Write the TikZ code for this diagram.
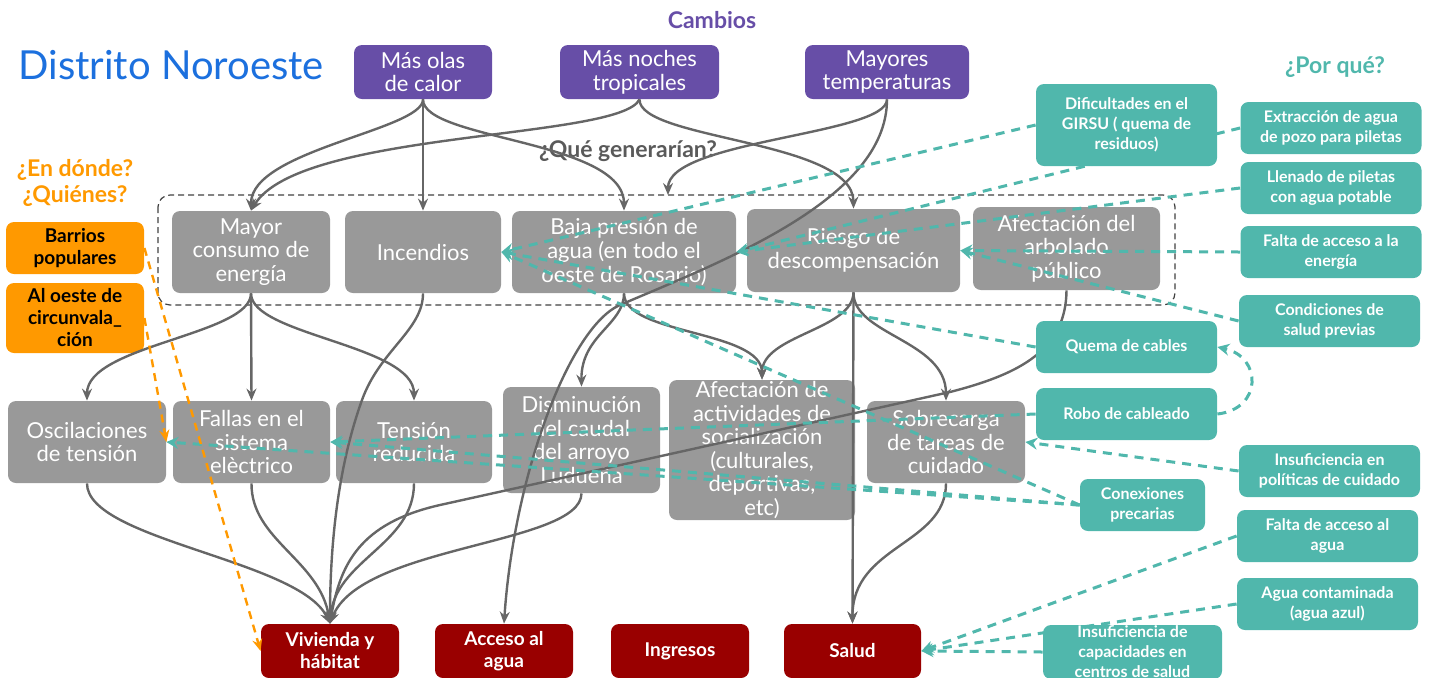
\documentclass[tikz,border=0pt]{standalone}
\usepackage{fontspec}
\setmainfont{Lato}
\usepackage{tikz}
\usetikzlibrary{positioning,arrows.meta,calc}
\usepackage{xcolor}
\definecolor{cambiopurple}{RGB}{103,78,167}
\definecolor{efectogray}{RGB}{153,153,153}
\definecolor{lineagray}{RGB}{102,102,102}
\definecolor{causateal}{RGB}{80,183,172}
\definecolor{lugarorange}{RGB}{255,153,0}
\definecolor{impactored}{RGB}{153,0,0}
\definecolor{tituloblue}{RGB}{28,112,222}
\definecolor{generargray}{RGB}{90,90,90}
\pgfdeclarelayer{front}
\pgfsetlayers{main,front}

\tikzset{
  caja/.style={rounded corners=4pt, align=center, inner sep=0pt, font=\fontsize{11}{11.8}\selectfont},
  cambio/.style={caja, fill=cambiopurple, text=white, minimum width=69pt, minimum height=27pt},
  efecto/.style={caja, fill=efectogray, text=white, minimum width=79pt, minimum height=41pt},
  impacto/.style={caja, fill=impactored, text=white, minimum width=69pt, minimum height=27pt, font=\fontsize{9.5}{11}\selectfont\bfseries},
  lugar/.style={caja, fill=lugarorange, text=black, minimum width=69pt, minimum height=26pt, font=\fontsize{9.5}{11}\selectfont\bfseries},
  causa/.style={caja, fill=causateal, text=white, minimum width=90.5pt, minimum height=26pt, font=\fontsize{8}{10}\selectfont\bfseries},
  flecha/.style={draw=lineagray, line width=1.2pt, -{Stealth[length=6pt,width=5pt,inset=2pt]}},
  porque/.style={draw=causateal, line width=1.5pt, dash pattern=on 4.5pt off 3.5pt, -{Stealth[length=6pt,width=6pt,inset=2pt]}},
  donde/.style={draw=lugarorange, line width=1.2pt, dash pattern=on 4pt off 3pt, -{Stealth[length=6pt,width=5pt,inset=2pt]}},
  titulo/.style={font=\fontsize{11.5}{13}\selectfont\bfseries, align=center, inner sep=0pt}
}

\begin{document}
\begin{tikzpicture}[x=0.5pt,y=-0.5pt]
  \useasboundingbox (0,0) rectangle (1432,677);
  % titulos
  \node[anchor=west, text=tituloblue, font=\fontsize{20}{24}\selectfont, inner sep=0pt] (titulo) at (18,65) {Distrito Noroeste};
  \node[titulo, text=cambiopurple] (cambios) at (712,20) {Cambios};
  \node[titulo, text=causateal] (porque) at (1335,67) {¿Por qué?};
  \node[titulo, text=lugarorange] (endonde) at (75,183) {¿En dónde?\\¿Quiénes?};
  \node[titulo, text=generargray] (generarian) at (628,151) {¿Qué generarían?};
  \draw[black!75, line width=0.6pt, dash pattern=on 3pt off 2pt, rounded corners=6pt] (158,195) rectangle (1175,305);

  % cambios
  \node[cambio] (masolas) at (423,72) {Más olas\\de calor};
  \node[cambio, minimum width=79.5pt] (masnoches) at (639.5,72) {Más noches\\tropicales};
  \node[cambio, minimum width=82pt] (mayores) at (887,72) {Mayores\\temperaturas};

  % que generarian
  \node[efecto] (mayor) at (251,252) {Mayor\\consumo de\\energía};
  \node[efecto, minimum width=78pt] (incendios) at (423,252) {Incendios};
  \node[efecto, minimum width=112pt] (baja) at (624,252) {Baja presión de\\agua (en todo el\\oeste de Rosario)};
  \node[efecto, minimum width=106.5pt, minimum height=41.5pt] (riesgo) at (853.5,250.5) {Riesgo de\\descompensación};
  \node[efecto, minimum width=93.5pt, minimum height=41.5pt] (arbolado) at (1066.5,248.5) {Afectación del\\arbolado\\público};

  \node[efecto] (oscil) at (87,442) {Oscilaciones\\de tensión};
  \node[efecto, minimum width=78.5pt] (fallas) at (251.5,442) {Fallas en el\\sistema\\elèctrico};
  \node[efecto, minimum width=78pt] (tension) at (414,442) {Tensión\\reducida};
  \node[efecto, minimum width=78.5pt, minimum height=53pt] (disminucion) at (581.5,440) {Disminución\\del caudal\\del arroyo\\Ludueña};
  \node[efecto, minimum width=93pt, minimum height=70pt] (afectacion) at (762,450) {Afectación de\\actividades de\\socialización\\(culturales,\\deportivas,\\etc)};
  \node[efecto] (sobrecarga) at (946,442) {Sobrecarga\\de tareas de\\cuidado};

  % donde
  \node[lugar] (barrios) at (75,248) {Barrios\\populares};
  \node[lugar, minimum height=35pt] (aloeste) at (75,318) {Al oeste de\\circunvala\_\\ción};

  % impactos
  \node[impacto] (vivienda) at (330,651) {Vivienda y\\hábitat};
  \node[impacto] (acceso) at (504,651) {Acceso al\\agua};
  \node[impacto] (ingresos) at (680,651) {Ingresos};
  \node[impacto, minimum width=68.5pt] (salud) at (852.5,651) {Salud};

  % por que
  \begin{pgfonlayer}{front}
    \node[causa, minimum height=41pt] (dificultades) at (1126.5,125) {Dificultades en el\\GIRSU ( quema de\\residuos)};
    \node[causa] (extraccion) at (1331,128) {Extracción de agua\\de pozo para piletas};
    \node[causa] (llenado) at (1331,188) {Llenado de piletas\\con agua potable};
    \node[causa] (faltaenergia) at (1331,252) {Falta de acceso a la\\energía};
    \node[causa] (condiciones) at (1329.5,321) {Condiciones de\\salud previas};
    \node[causa] (quema) at (1126.5,347) {Quema de cables};
    \node[causa] (robo) at (1126.5,414) {Robo de cableado};
    \node[causa] (insufpol) at (1329.5,471) {Insuficiencia en\\políticas de cuidado};
    \node[causa, minimum width=62.5pt] (conexiones) at (1142.5,505) {Conexiones\\precarias};
    \node[causa] (faltaagua) at (1327.5,536) {Falta de acceso al\\agua};
    \node[causa] (aguacont) at (1327.5,604) {Agua contaminada\\(agua azul)};
    \node[causa, minimum width=89.5pt, minimum height=27pt] (insufcap) at (1132.5,652) {Insuficiencia de\\capacidades en\\centros de salud};
  \end{pgfonlayer}

  \coordinate (bajagrupo) at (668,195);

  % flechas grises
  \draw[flecha] (masolas.south) .. controls (423,130) and (251,150) .. (mayor.north);
  \draw[flecha] (masolas.south) -- (incendios.north);
  \draw[flecha] (masolas.south) .. controls (423,140) and (624,140) .. (baja.north);
  \draw[flecha] (masnoches.south) .. controls (620,140) and (300,130) .. (mayor.north);
  \draw[flecha] (masnoches.south) .. controls (639,140) and (853,140) .. (riesgo.north);
  \draw[flecha] (mayores.south) .. controls (887,135) and (668,140) .. (bajagrupo);
  \draw[flecha] (mayores.south) .. controls (887,200) and (720,262) .. (620,305) .. controls (570,326.5) and (514,474) .. (acceso.north);
  \draw[flecha] (mayor.south) .. controls (251,335) and (87,345) .. (oscil.north);
  \draw[flecha] (mayor.south) -- (fallas.north);
  \draw[flecha] (mayor.south) .. controls (251,335) and (414,345) .. (tension.north);
  \draw[flecha] (incendios.south) .. controls (423,330) and (380,350) .. (362,400) .. controls (344,450) and (330,520) .. (vivienda.north);
  \draw[flecha] (baja.south) .. controls (624,325) and (581,335) .. (disminucion.north);
  \draw[flecha] (baja.south) .. controls (624,335) and (762,330) .. (afectacion.north);
  \draw[flecha] (riesgo.south) .. controls (853,330) and (762,335) .. (afectacion.north);
  \draw[flecha] (riesgo.south) .. controls (853,335) and (946,340) .. (sobrecarga.north);
  \draw[flecha] (riesgo.south) -- (salud.north);
  \draw[flecha] (arbolado.south) .. controls (1066,350) and (1020,374) .. (950,392) -- (440,505) .. controls (360,523) and (340,564) .. (vivienda.north);
  \draw[flecha] (oscil.south) .. controls (87,540) and (300,560) .. (vivienda.north);
  \draw[flecha] (fallas.south) .. controls (251,540) and (320,560) .. (vivienda.north);
  \draw[flecha] (tension.south) .. controls (414,545) and (335,560) .. (vivienda.north);
  \draw[flecha] (disminucion.south) .. controls (581,545) and (360,545) .. (vivienda.north);
  \draw[flecha] (sobrecarga.south) .. controls (946,545) and (852,545) .. (salud.north);

  % causas
  \draw[porque] (dificultades.west) -- (incendios.east);
  \draw[porque] (quema.west) -- (incendios.east);
  \draw[porque] (conexiones.west) -- (incendios.east);
  \draw[porque] (extraccion.west) -- (baja.east);
  \draw[porque] (llenado.west) -- (baja.east);
  \draw[porque] (faltaenergia.west) -- (riesgo.east);
  \draw[porque] (condiciones.west) -- (riesgo.east);
  \draw[porque] (robo.west) -- (fallas.east);
  \draw[porque] (conexiones.west) -- (fallas.east);
  \draw[porque] (conexiones.west) -- (oscil.east);
  \draw[porque] (insufpol.west) -- (sobrecarga.east);
  \draw[porque] (robo.east) .. controls +(45,-5) and +(45,10) .. (quema.east);
  \draw[porque] (faltaagua.west) -- (salud.east);
  \draw[porque] (aguacont.west) -- (salud.east);
  \draw[porque] (insufcap.west) -- (salud.east);

  % donde
  \draw[donde] (barrios.east) -- (vivienda.west);
  \draw[donde] (aloeste.east) -- (oscil.east);
\end{tikzpicture}
\end{document}
